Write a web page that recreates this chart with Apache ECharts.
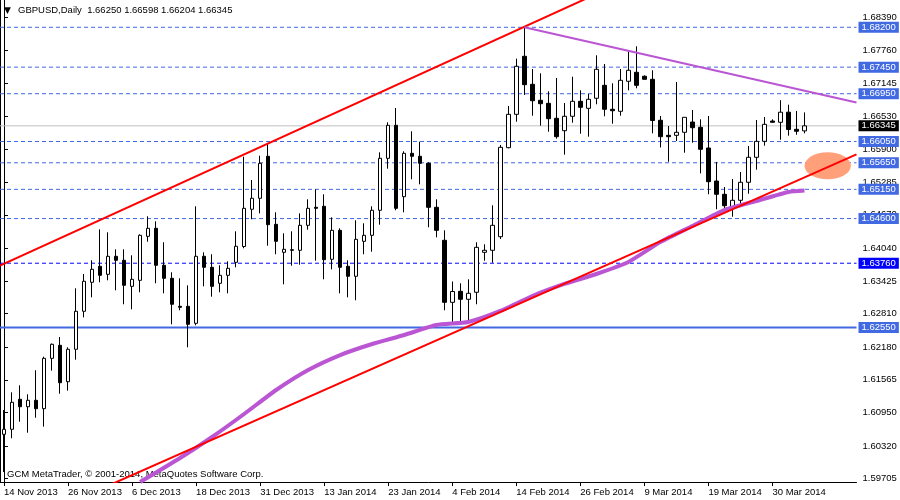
<!DOCTYPE html>
<html><head><meta charset="utf-8">
<script src="https://cdn.jsdelivr.net/npm/echarts/dist/echarts.min.js"></script>
<style>html,body{margin:0;padding:0;background:#fff}#c{width:900px;height:500px}</style>
</head><body><div id="c"></div>
<script>
const symbolName = 'GBPUSD,Daily';
const copyright = 'GCM MetaTrader, \u00A9 2001-2014, MetaQuotes Software Corp.';
const dates = [
'14 Nov 2013','15 Nov 2013','18 Nov 2013','19 Nov 2013','20 Nov 2013','21 Nov 2013','22 Nov 2013','25 Nov 2013',
'26 Nov 2013','27 Nov 2013','28 Nov 2013','29 Nov 2013','2 Dec 2013','3 Dec 2013','4 Dec 2013','5 Dec 2013',
'6 Dec 2013','9 Dec 2013','10 Dec 2013','11 Dec 2013','12 Dec 2013','13 Dec 2013','16 Dec 2013','17 Dec 2013',
'18 Dec 2013','19 Dec 2013','20 Dec 2013','23 Dec 2013','24 Dec 2013','26 Dec 2013','27 Dec 2013','30 Dec 2013',
'31 Dec 2013','2 Jan 2014','3 Jan 2014','6 Jan 2014','7 Jan 2014','8 Jan 2014','9 Jan 2014','10 Jan 2014',
'13 Jan 2014','14 Jan 2014','15 Jan 2014','16 Jan 2014','17 Jan 2014','20 Jan 2014','21 Jan 2014','22 Jan 2014',
'23 Jan 2014','24 Jan 2014','27 Jan 2014','28 Jan 2014','29 Jan 2014','30 Jan 2014','31 Jan 2014','3 Feb 2014',
'4 Feb 2014','5 Feb 2014','6 Feb 2014','7 Feb 2014','10 Feb 2014','11 Feb 2014','12 Feb 2014','13 Feb 2014',
'14 Feb 2014','17 Feb 2014','18 Feb 2014','19 Feb 2014','20 Feb 2014','21 Feb 2014','24 Feb 2014','25 Feb 2014',
'26 Feb 2014','27 Feb 2014','28 Feb 2014','3 Mar 2014','4 Mar 2014','5 Mar 2014','6 Mar 2014','7 Mar 2014',
'9 Mar 2014','10 Mar 2014','11 Mar 2014','12 Mar 2014','13 Mar 2014','14 Mar 2014','17 Mar 2014','18 Mar 2014',
'19 Mar 2014','20 Mar 2014','21 Mar 2014','24 Mar 2014','25 Mar 2014','26 Mar 2014','27 Mar 2014','28 Mar 2014',
'30 Mar 2014','31 Mar 2014','1 Apr 2014','2 Apr 2014','3 Apr 2014'];
const opens = [
1.60540,1.60634,1.61199,1.61059,1.61180,1.61022,1.61970,1.62215,1.61530,1.62140,
1.62855,1.63401,1.63702,1.63551,1.63890,1.63815,1.63325,1.63438,1.64266,1.64417,
1.63721,1.63476,1.62949,1.62949,1.62629,1.63890,1.63683,1.63382,1.63532,1.63777,
1.64074,1.64775,1.64982,1.65772,1.64492,1.63965,1.64014,1.64003,1.64473,1.64812,
1.64831,1.63834,1.64379,1.63702,1.63514,1.64172,1.64285,1.64756,1.65734,1.66355,
1.65012,1.65828,1.65772,1.65640,1.64812,1.64191,1.63024,1.63231,1.63081,1.63213,
1.63965,1.64003,1.64259,1.65934,1.66562,1.67654,1.67127,1.66826,1.66769,1.66487,
1.66254,1.66525,1.66807,1.66675,1.66864,1.67108,1.66657,1.66619,1.67184,1.67353,
1.67278,1.67221,1.66450,1.66167,1.66167,1.66224,1.66417,1.66318,1.65928,1.65307,
1.65057,1.64793,1.64944,1.65283,1.65753,1.66054,1.66436,1.66412,1.66602,1.66280,
1.66250];
const closes = [
1.60634,1.61142,1.61059,1.61180,1.61022,1.61970,1.62234,1.61511,1.62140,1.62855,
1.63420,1.63645,1.63532,1.63890,1.63815,1.63344,1.63457,1.64285,1.64417,1.63721,
1.63476,1.62987,1.62930,1.62610,1.63890,1.63683,1.63325,1.63532,1.63664,1.64078,
1.64793,1.64982,1.65640,1.64485,1.64172,1.64022,1.64003,1.64473,1.64793,1.64793,
1.63826,1.64379,1.63683,1.63514,1.64210,1.64285,1.64756,1.65734,1.66355,1.64793,
1.65828,1.65772,1.65640,1.64812,1.64379,1.63024,1.63228,1.63081,1.63194,1.64059,
1.64003,1.64473,1.65941,1.66562,1.67466,1.67120,1.66818,1.66762,1.66480,1.66141,
1.66525,1.66807,1.66694,1.66845,1.67409,1.66657,1.66630,1.67202,1.67391,1.67108,
1.67221,1.66446,1.66141,1.66141,1.66224,1.66506,1.66310,1.65904,1.65294,1.65057,
1.64842,1.64944,1.65283,1.65753,1.66054,1.66374,1.66412,1.66602,1.66276,1.66243,
1.66345];
const lows = [
1.59831,1.60465,1.60777,1.60570,1.60852,1.60683,1.61737,1.61304,1.61361,1.61944,
1.62742,1.63118,1.63401,1.63438,1.63250,1.62987,1.62893,1.63213,1.64165,1.63382,
1.63194,1.62610,1.62874,1.62177,1.62591,1.63325,1.63130,1.63213,1.63194,1.63683,
1.64041,1.64586,1.64699,1.64090,1.63928,1.63363,1.63713,1.63732,1.64391,1.63807,
1.63457,1.63645,1.63194,1.63118,1.63062,1.63928,1.63977,1.64485,1.65539,1.64756,
1.64718,1.65339,1.65245,1.64436,1.64248,1.62874,1.62654,1.62635,1.62691,1.62987,
1.63807,1.63770,1.64216,1.65923,1.66423,1.66926,1.66536,1.66348,1.66235,1.66103,
1.65802,1.66404,1.66197,1.66141,1.66751,1.66525,1.66386,1.66536,1.67014,1.67052,
1.67221,1.66205,1.65938,1.65670,1.66060,1.65840,1.66028,1.65452,1.65057,1.64775,
1.64761,1.64635,1.64856,1.65068,1.65520,1.65972,1.66408,1.66083,1.66160,1.66179,
1.66204];
const highs = [
1.60997,1.61330,1.61462,1.61293,1.61745,1.62001,1.62249,1.62371,1.62177,1.63288,
1.63557,1.63815,1.64398,1.64342,1.64022,1.64022,1.63909,1.64304,1.64643,1.64549,
1.64154,1.63589,1.63476,1.63344,1.64831,1.63965,1.63928,1.63721,1.63796,1.64360,
1.65765,1.65326,1.65783,1.65998,1.64718,1.64323,1.64360,1.64699,1.64963,1.65151,
1.65057,1.64624,1.64417,1.63815,1.64568,1.64511,1.64831,1.65847,1.66412,1.66681,
1.65866,1.66243,1.66047,1.65659,1.64963,1.64379,1.63416,1.63382,1.63457,1.64154,
1.64116,1.64850,1.65985,1.66719,1.67609,1.68224,1.67415,1.67334,1.66995,1.67246,
1.66775,1.67270,1.67014,1.66945,1.67673,1.67509,1.67146,1.67415,1.67741,1.67842,
1.67296,1.67391,1.66530,1.66342,1.67170,1.66506,1.66643,1.66468,1.66530,1.65665,
1.65194,1.65345,1.65477,1.65966,1.66455,1.66512,1.66468,1.66828,1.66743,1.66625,
1.66598];
// moving average, read at sampled bars
const maBars = [17,22,26,30,34,38,42,46,50,54,58,62,66,70,74,78,82,86,90,94,98,100];
const maValues = [1.59642,1.60094,1.60489,1.60922,1.61374,1.61750,1.62032,1.62240,1.62409,1.62597,1.62654,1.62861,1.63143,1.63369,1.63557,1.63783,1.64159,1.64460,1.64761,1.64931,1.65100,1.65128];
// drawn objects (bar index, price)
const upperChannel = [[-0.5, 1.63717], [74, 1.68827]];
const lowerTrend = [[12, 1.59505], [106.5, 1.65808]];
const resistLine = [[65, 1.68200], [106.5, 1.66785]];
const ellipseMark = [[102.9, 1.65593, 2.9, 0.00254]];
const dashedLevels = [1.68200, 1.67450, 1.66950, 1.66050, 1.65650, 1.65150, 1.64600];
const blueLevels = [1.63760];
const solidLevels = [1.62550];
const priceTicks = [1.59705,1.60320,1.60950,1.61565,1.62180,1.62810,1.63425,1.64040,1.64670,1.65285,1.65900,1.66530,1.67145,1.67760,1.68390];
const emptyBarsRight = 6;
const yMin = 1.596423, yMax = 1.687136;

const FONT = 'Liberation Sans, Arial, sans-serif';
const cats = dates.concat(new Array(emptyBarsRight).fill(''));
const xEnd = cats.length - 0.5;
const candles = opens.map((o, i) => [o, closes[i], lows[i], highs[i]]);
const last = opens.length - 1;
const header = symbolName + '  ' + [opens[last], highs[last], lows[last], closes[last]].map(v => v.toFixed(5)).join(' ');
const labelIdx = i => i % 8 === 0 && i < dates.length;

function levelSeries(v, color, type, width, bg) {
  return { type: 'line', xAxisIndex: 1, z: 1, symbol: 'none', silent: true, clip: false,
    data: [[-0.5, v], [xEnd, v]],
    lineStyle: { color: color, type: type, width: width },
    endLabel: { show: true, distance: 2, formatter: () => v.toFixed(5), color: '#fff',
      backgroundColor: bg, padding: [1, 3, 0, 3], fontSize: 9.5, fontFamily: FONT, lineHeight: 10 } };
}
const levelSeriesList = []
  .concat(dashedLevels.map(v => levelSeries(v, '#4169E1', [4, 3], 1, '#4169E1')))
  .concat(blueLevels.map(v => levelSeries(v, '#0000FF', [4, 3], 1, '#0000FF')))
  .concat(solidLevels.map(v => levelSeries(v, '#4169E1', 'solid', 2, '#4169E1')))
  .concat([levelSeries(closes[last], '#C0C0C0', 'solid', 1, '#000000')]);

const chart = echarts.init(document.getElementById('c'), null, { renderer: 'canvas' });
chart.setOption({
  animation: false,
  backgroundColor: '#ffffff',
  textStyle: { fontFamily: FONT },
  grid: { left: -0.5, right: 43.5, top: 0, bottom: 18, containLabel: false },
  xAxis: [{
    type: 'category', data: cats, boundaryGap: true,
    axisLine: { show: true, lineStyle: { color: '#000', width: 1 } },
    axisTick: { show: true, interval: labelIdx, alignWithLabel: true, length: 4, lineStyle: { color: '#000' } },
    axisLabel: { interval: labelIdx, align: 'left', margin: 5, color: '#000', fontSize: 9.5, fontFamily: FONT },
    splitLine: { show: false }
  }, {
    type: 'value', min: -0.5, max: xEnd, show: false
  }],
  yAxis: {
    type: 'value', position: 'right', min: yMin, max: yMax,
    axisLine: { show: true, lineStyle: { color: '#000', width: 1 } },
    axisTick: { show: true, customValues: priceTicks, length: 4, lineStyle: { color: '#000' } },
    axisLabel: { customValues: priceTicks, formatter: v => v.toFixed(5), margin: 6, color: '#000', fontSize: 9.5, fontFamily: FONT },
    splitLine: { show: false }
  },
  series: levelSeriesList.concat([
    { type: 'candlestick', xAxisIndex: 0, data: candles, barWidth: 4, z: 2,
      itemStyle: { color: '#ffffff', color0: '#000000', borderColor: '#000000', borderColor0: '#000000', borderWidth: 1 } },
    { type: 'custom', xAxisIndex: 1, data: ellipseMark, z: 3, clip: true,
      renderItem: (params, api) => {
        const c = api.coord([api.value(0), api.value(1)]);
        const e = api.coord([api.value(0) + api.value(2), api.value(1) + api.value(3)]);
        const rx = Math.abs(e[0] - c[0]), ry = Math.abs(e[1] - c[1]);
        return { type: 'circle', x: c[0], y: c[1], scaleY: ry / rx, shape: { cx: 0, cy: 0, r: rx }, style: { fill: '#FFA07A' } };
      } },
    { type: 'line', xAxisIndex: 1, data: maBars.map((b, i) => [b, maValues[i]]), z: 4, clip: true,
      symbol: 'none', smooth: 0.2, lineStyle: { color: '#BA55D3', width: 4 } },
    { type: 'line', xAxisIndex: 1, data: upperChannel, z: 5, clip: true, symbol: 'none', lineStyle: { color: '#FF0000', width: 2 } },
    { type: 'line', xAxisIndex: 1, data: lowerTrend, z: 5, clip: true, symbol: 'none', lineStyle: { color: '#FF0000', width: 2 } },
    { type: 'line', xAxisIndex: 1, data: resistLine, z: 5, clip: true, symbol: 'none', lineStyle: { color: '#BA55D3', width: 2 } }
  ]),
  graphic: [
    { type: 'line', shape: { x1: 0.5, y1: 0, x2: 0.5, y2: 482 }, style: { stroke: '#000', lineWidth: 1 }, silent: true },
    { type: 'text', left: 4, top: 6, style: { text: '\u25BC', fontSize: 9, fill: '#000', fontFamily: 'DejaVu Sans' } },
    { type: 'text', left: 18, top: 5, style: { text: header, fontSize: 9.5, fontFamily: FONT, fill: '#000' } },
    { type: 'text', left: 7, top: 469, style: { text: copyright, fontSize: 9.5, fontFamily: FONT, fill: '#000' } }
  ]
});
</script></body></html>
